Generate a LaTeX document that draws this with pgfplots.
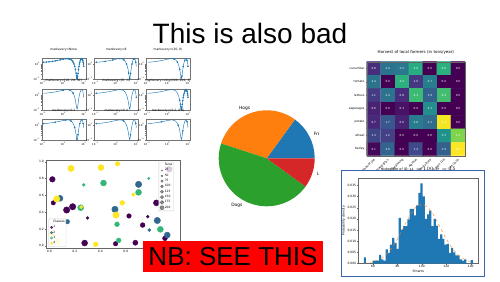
\documentclass[border=0pt]{standalone}
\usepackage{pgfplots}
\pgfplotsset{compat=1.18}
\usepackage{pgfplotstable}
\usepackage{fontspec}
\setmainfont{Liberation Sans}
\newfontfamily\dvs{DejaVu Sans}
\definecolor{C0}{HTML}{1F77B4}
\definecolor{C1}{HTML}{FF7F0E}
\definecolor{C2}{HTML}{2CA02C}
\definecolor{C3}{HTML}{D62728}
\definecolor{v1}{HTML}{440154}
\definecolor{v2}{HTML}{31688E}
\definecolor{v3}{HTML}{35B779}
\definecolor{v4}{HTML}{FDE725}
\definecolor{frameblue}{HTML}{3B64A8}

\pgfplotstableread{
x y
0.11 1.2198
0.15 1.2594
0.2 1.3087
0.3 1.4055
0.4 1.4994
0.5 1.5894
0.7 1.7542
1.0 1.9515
1.3 2.0736
1.57 2.11
1.8 2.0838
2.1 1.9732
2.4 1.7855
2.7 1.5374
3.0 1.2511
3.3 0.9523
3.6 0.6675
3.9 0.4222
4.2 0.2384
4.4 0.1584
4.6 0.1163
4.71 0.11
4.8 0.1138
5.0 0.1511
5.2 0.2265
5.5 0.4045
5.8 0.6454
6.1 0.9278
6.4 1.2265
6.8 1.6041
7.2 1.9037
7.6 2.0779
7.85 2.11
8.1 2.0799
8.5 1.9085
8.9 1.6110
9.3 1.2345
9.6 0.9357
9.89 0.6628
}\curve

\pgfplotstableread{
x y c t
0 0 0.8 0.8
1 0 2.4 2.4
2 0 2.5 2.5
3 0 3.9 3.9
4 0 0.0 0.0
5 0 4.0 4.0
6 0 0.0 0.0
0 1 2.4 2.4
1 1 0.0 0.0
2 1 4.0 4.0
3 1 1.0 1.0
4 1 2.7 2.7
5 1 0.0 0.0
6 1 0.0 0.0
0 2 1.1 1.1
1 2 2.4 2.4
2 2 0.8 0.8
3 2 4.3 4.3
4 2 1.9 1.9
5 2 4.4 4.4
6 2 0.0 0.0
0 3 0.6 0.6
1 3 0.0 0.0
2 3 0.3 0.3
3 3 0.0 0.0
4 3 3.1 3.1
5 3 0.0 0.0
6 3 0.0 0.0
0 4 0.7 0.7
1 4 1.7 1.7
2 4 0.6 0.6
3 4 2.6 2.6
4 4 2.2 2.2
5 4 6.2 6.2
6 4 0.0 0.0
0 5 1.3 1.3
1 5 1.2 1.2
2 5 0.0 0.0
3 5 0.0 0.0
4 5 0.0 0.0
5 5 3.2 3.2
6 5 5.1 5.1
0 6 0.1 0.1
1 6 2.0 2.0
2 6 0.0 0.0
3 6 1.4 1.4
4 6 0.0 0.0
5 6 1.9 1.9
6 6 6.3 6.3
}\harvest

\pgfplotstableread{
x y r
0.024 0.79 2.8
0.031 0.51 2.2
0.183 0.464 3.2
0.136 0.425 3.2
0.625 0.354 2.3
0.772 0.346 1.4
0.30 0.33 1.4
0.732 0.246 2.4
0.907 0.088 2.4
0.277 0.032 3.0
0.52 0.024 2.3
0.675 0.036 2.6
0.94 0.91 3.0
0.84 0.51 3.0
}\clsA
\pgfplotstableread{
x y r
0.70 0.73 3.2
0.084 0.564 3.0
0.515 0.433 3.2
0.847 0.30 3.2
0.141 0.286 2.3
0.784 0.187 1.5
0.925 0.127 3.0
}\clsB
\pgfplotstableread{
x y r
0.27 0.725 1.5
0.425 0.746 3.0
0.78 0.80 1.2
0.70 0.635 3.0
0.246 0.452 3.0
0.531 0.255 2.4
0.871 0.195 3.0
0.544 0.064 2.4
}\clsC
\pgfplotstableread{
x y r
0.17 0.92 3.2
0.405 0.93 3.0
0.535 0.975 2.3
0.66 0.61 1.8
0.058 0.556 3.2
0.573 0.51 2.4
0.25 0.46 1.6
0.523 0.365 3.2
0.364 0.017 2.4
0.019 0.14 2.8
0.066 0.056 2.4
}\clsD

\newcommand{\pw}[1]{10\textsuperscript{#1}}
\pgfplotsset{
  minigrid/.style={scale only axis, width=44pt, height=21.5pt,
    anchor=south west,
    xmin=0.0879, xmax=12.39, ymin=0.0949, ymax=2.44,
    xtick={0.1,1,10}, ytick={0.1,1},
    xticklabels={\pw{−1},\pw{0},\pw{1}},
    yticklabels={\pw{−1},\pw{0}},
    axis line style={black!55, line width=0.25pt},
    every tick/.style={black!55, line width=0.2pt},
    major tick length=1pt, minor tick length=0.6pt, tick align=outside, tick pos=left,
    tick label style={font=\dvs\fontsize{2.6}{2.8}\selectfont, inner sep=0.6pt},
    title style={font=\dvs\fontsize{3}{3.4}\selectfont, at={(0.5,1)}, anchor=south, inner sep=0.6pt},
  },
  curv/.style={C0, line width=0.45pt, mark=*, mark size=0.55pt},
  smallax/.style={scale only axis, anchor=south west,
    axis line style={black!60, line width=0.3pt},
    every tick/.style={black!60, line width=0.25pt},
    major tick length=1.2pt, tick align=outside, tick pos=left,
    tick label style={font=\dvs\fontsize{3}{3.4}\selectfont, inner sep=0.8pt},
    /pgf/number format/assume math mode=true,
    title style={font=\dvs\fontsize{3.6}{4}\selectfont, inner sep=1pt},
    label style={font=\dvs\fontsize{3.2}{3.6}\selectfont},
  },
  smalleg/.style={font=\dvs\fontsize{3}{3.2}\selectfont,
    fill opacity=0.8, text opacity=1, draw=black!20, inner sep=0.6pt, rounded corners=0.5pt,
    row sep=0.2pt, nodes={inner sep=0.7pt}},
  dotleg/.style={legend image code/.code={\draw[##1] plot coordinates {(2.5pt,0pt)};}},
}

\begin{document}
\begin{tikzpicture}[x=1pt,y=1pt]
\path (0,0) rectangle (500,281);
\node[anchor=base, font=\fontsize{28}{28}\selectfont, inner sep=0] at (250,237) {This is also bad};

% ---------- 3x3 markevery grid ----------
\begin{axis}[xmode=log, ymode=log, minigrid, at={(41.7pt,201.8pt)}, title={markevery=None}]
\addplot[curv] table {\curve};
\end{axis}
\begin{axis}[xmode=log, ymode=log, minigrid, at={(94.3pt,201.8pt)}, title={markevery=8}]
\addplot[curv, mark repeat=3] table {\curve};
\end{axis}
\begin{axis}[xmode=log, ymode=log, minigrid, at={(146pt,201.8pt)}, title={markevery=(30, 8)}]
\addplot[curv, mark repeat=3, mark phase=12] table {\curve};
\end{axis}
\begin{axis}[xmode=log, ymode=log, minigrid, at={(41.7pt,170.8pt)}, title={markevery=[16, 24, 30]}]
\addplot[curv, mark indices={8,12,15}] table {\curve};
\end{axis}
\begin{axis}[xmode=log, ymode=log, minigrid, at={(94.3pt,170.8pt)}, title={markevery=[0, -1]}]
\addplot[curv, mark indices={1,39}] table {\curve};
\end{axis}
\begin{axis}[xmode=log, ymode=log, minigrid, at={(146pt,170.8pt)}, title={markevery=slice(100, 200, 3)}]
\addplot[curv, mark phase=18, mark repeat=1] table {\curve};
\end{axis}
\begin{axis}[xmode=log, ymode=log, minigrid, at={(41.7pt,140.5pt)}, title={markevery=0.1}]
\addplot[curv, mark repeat=4] table {\curve};
\end{axis}
\begin{axis}[xmode=log, ymode=log, minigrid, at={(94.3pt,140.5pt)}, title={markevery=0.4}]
\addplot[curv, mark repeat=12] table {\curve};
\end{axis}
\begin{axis}[xmode=log, ymode=log, minigrid, at={(146pt,140.5pt)}, title={markevery=(0.2, 0.4)}]
\addplot[curv, mark repeat=10, mark phase=6] table {\curve};
\end{axis}

% ---------- pie ----------
\begin{axis}[at={(218.7pt,74.7pt)}, anchor=south west, scale only axis, width=96pt, height=96pt,
  xmin=-1, xmax=1, ymin=-1, ymax=1, hide axis, clip=false]
\fill[C0] (axis cs:0,0) -- (axis cs:1,0) arc[start angle=0, end angle=54, radius=48pt] -- cycle;
\fill[C1] (axis cs:0,0) -- (axis cs:0.5878,0.8090) arc[start angle=54, end angle=162, radius=48pt] -- cycle;
\fill[C2] (axis cs:0,0) -- (axis cs:-0.9511,0.3090) arc[start angle=162, end angle=324, radius=48pt] -- cycle;
\fill[C3] (axis cs:0,0) -- (axis cs:0.8090,-0.5878) arc[start angle=324, end angle=360, radius=48pt] -- cycle;
\end{axis}
\begin{scope}
\clip (195,60) rectangle (318.5,185);
\node[anchor=west, font=\dvs\fontsize{4.4}{5}\selectfont, inner sep=0] at (313.7,146.7) {Frogs};
\node[anchor=west, font=\dvs\fontsize{4.4}{5}\selectfont, inner sep=0] at (316.9,106.4) {Logs};
\end{scope}
\node[anchor=east, font=\dvs\fontsize{4.4}{5}\selectfont, inner sep=0] at (250.4,173) {Hogs};
\node[anchor=east, font=\dvs\fontsize{4.4}{5}\selectfont, inner sep=0] at (242.7,75.6) {Dogs};

% ---------- heatmap ----------
\begin{axis}[smallax, at={(366.7pt,125.3pt)}, width=98.3pt, height=94pt,
  xmin=-0.5, xmax=6.5, ymin=-0.5, ymax=6.5, y dir=reverse, axis on top,
  colormap/viridis, point meta min=0, point meta max=6.3,
  xtick={0,...,6}, ytick={0,...,6},
  xticklabels={Farmer Joe,Upland Bros.,Smith Gardening,Agrifun,Organiculture,BioGoods Ltd.,Cornylee Corp.},
  yticklabels={cucumber,tomato,lettuce,asparagus,potato,wheat,barley},
  x tick label style={rotate=45, anchor=north east},
  title={Harvest of local farmers (in tons/year)},
  title style={font=\dvs\fontsize{4}{4.5}\selectfont}]
\addplot[matrix plot*, mesh/cols=7, point meta=explicit] table[meta=c] {\harvest};
\addplot[draw=none, mark=none, nodes near coords, nodes near coords align=center,
  point meta=explicit symbolic,
  every node near coord/.style={font=\dvs\fontsize{2.8}{3}\selectfont, text=white, inner sep=0}]
  table[meta=t] {\harvest};
\end{axis}

% ---------- histogram panel ----------
\filldraw[fill=white, draw=frameblue, line width=0.9pt] (341,5) rectangle (484,111);
\begin{axis}[smallax, at={(358.3pt,17.5pt)}, width=120pt, height=85.6pt,
  xmin=48.0, xmax=146.2, ymin=0, ymax=0.0383,
  xtick={60,80,100,120,140}, ytick={0,0.005,0.01,0.015,0.02,0.025,0.03,0.035},
  scaled y ticks=false,
  yticklabel style={/pgf/number format/.cd, fixed, fixed zerofill, precision=3},
  title={Histogram of IQ: $\mu=100$, $\sigma=15$},
  title style={font=\dvs\fontsize{3.4}{4}\selectfont, yshift=-1pt},
  xlabel={Smarts}, ylabel={Probability density},
  xlabel style={yshift=2.5pt}, ylabel style={yshift=-2pt}]
\addplot[ybar interval, fill=C0, draw=none] coordinates {
(52.50,0.0027) (54.28,0) (56.07,0) (57.85,0) (59.64,0.0013) (61.42,0.0013) (63.20,0.0013) (64.99,0.0039) (66.77,0.0018) (68.56,0.0013)
(70.34,0.0063) (72.12,0.0048) (73.91,0.0085) (75.69,0.0115) (77.48,0.0092) (79.26,0.0065) (81.04,0.0204) (82.83,0.0152) (84.61,0.0167) (86.40,0.0167)
(88.18,0.0197) (89.96,0.0244) (91.75,0.0244) (93.53,0.0215) (95.32,0.026) (97.10,0.0316) (98.88,0.0358) (100.67,0.030) (102.45,0.020) (104.24,0.022)
(106.02,0.0237) (107.80,0.0167) (109.59,0.020) (111.37,0.017) (113.16,0.011) (114.94,0.013) (116.72,0.011) (118.51,0.0085) (120.29,0.0088) (122.08,0.0048)
(123.86,0.007) (125.64,0.005) (127.43,0.0036) (129.21,0.0036) (131.00,0.0018) (132.78,0.0013) (134.56,0.0018) (136.35,0) (138.13,0) (139.92,0.0015)
(141.70,0.0015)};
\addplot[C1, dashed, line width=0.4pt] coordinates {
(52.5,0.000177) (55,0.000295) (60,0.00076) (65,0.00175) (70,0.0036) (75,0.00663) (80,0.01094) (85,0.01613) (90,0.0213) (95,0.02516) (100,0.0266)
(105,0.02516) (110,0.0213) (115,0.01613) (120,0.01094) (125,0.00663) (130,0.0036) (135,0.00175) (140,0.00076) (141.7,0.00058)};
\end{axis}

% ---------- scatter ----------
\begin{axis}[smallax, dotleg, at={(46pt,33pt)}, width=134pt, height=88pt,
  xmin=-0.026, xmax=1.025, ymin=-0.027, ymax=1.02,
  xtick={0,0.2,0.4,0.6,0.8,1}, ytick={0,0.2,0.4,0.6,0.8,1},
  xticklabel style={/pgf/number format/.cd, fixed, fixed zerofill, precision=1},
  yticklabel style={/pgf/number format/.cd, fixed, fixed zerofill, precision=1},
  legend style={smalleg, at={(0.017,0.015)}, anchor=south west},
  legend cell align=left]
\addplot[forget plot, scatter, only marks, mark=*, mark size=1.2pt, color=v1, scatter/use mapped color={draw=v1, fill=v1},
  visualization depends on={\thisrow{r}\as\rad}, scatter/@pre marker code/.append style={/tikz/mark size=\rad}]
  table {\clsA};
\addplot[forget plot, scatter, only marks, mark=*, mark size=1.2pt, color=v2, scatter/use mapped color={draw=v2, fill=v2},
  visualization depends on={\thisrow{r}\as\rad}, scatter/@pre marker code/.append style={/tikz/mark size=\rad}]
  table {\clsB};
\addplot[forget plot, scatter, only marks, mark=*, mark size=1.2pt, color=v3, scatter/use mapped color={draw=v3, fill=v3},
  visualization depends on={\thisrow{r}\as\rad}, scatter/@pre marker code/.append style={/tikz/mark size=\rad}]
  table {\clsC};
\addplot[forget plot, scatter, only marks, mark=*, mark size=1.2pt, color=v4, scatter/use mapped color={draw=v4, fill=v4},
  visualization depends on={\thisrow{r}\as\rad}, scatter/@pre marker code/.append style={/tikz/mark size=\rad}]
  table {\clsD};
\addlegendimage{empty legend}\addlegendentry{Classes}
\addlegendimage{only marks, mark=*, v1, mark size=1.1pt}\addlegendentry{1}
\addlegendimage{only marks, mark=*, v2, mark size=1.1pt}\addlegendentry{2}
\addlegendimage{only marks, mark=*, v3, mark size=1.1pt}\addlegendentry{3}
\addlegendimage{only marks, mark=*, v4, mark size=1.1pt}\addlegendentry{4}
\end{axis}
\begin{axis}[dotleg, at={(46pt,33pt)}, anchor=south west, scale only axis, width=134pt, height=88pt,
  xmin=0, xmax=1, ymin=0, ymax=1, hide axis,
  legend style={smalleg, at={(0.955,0.98)}, anchor=north east},
  legend cell align=left]
\addlegendimage{empty legend}\addlegendentry{Sizes}
\addlegendimage{only marks, mark=*, black!75, mark options={opacity=0.6}, mark size=0.7pt}\addlegendentry{25}
\addlegendimage{only marks, mark=*, black!75, mark options={opacity=0.6}, mark size=1.0pt}\addlegendentry{50}
\addlegendimage{only marks, mark=*, black!75, mark options={opacity=0.6}, mark size=1.25pt}\addlegendentry{75}
\addlegendimage{only marks, mark=*, black!75, mark options={opacity=0.6}, mark size=1.45pt}\addlegendentry{100}
\addlegendimage{only marks, mark=*, black!75, mark options={opacity=0.6}, mark size=1.6pt}\addlegendentry{125}
\addlegendimage{only marks, mark=*, black!75, mark options={opacity=0.6}, mark size=1.75pt}\addlegendentry{150}
\addlegendimage{only marks, mark=*, black!75, mark options={opacity=0.6}, mark size=1.9pt}\addlegendentry{175}
\addlegendimage{only marks, mark=*, black!75, mark options={opacity=0.6}, mark size=2.05pt}\addlegendentry{200}
\end{axis}

% ---------- NB box ----------
\node[fill=red, inner sep=0, minimum width=179.4pt, minimum height=31pt,
  font=\fontsize{26}{26}\selectfont] at (233,24.8) {NB: SEE THIS};

\pgfresetboundingbox
\path (0,0) rectangle (500,281);
\end{tikzpicture}
\end{document}
